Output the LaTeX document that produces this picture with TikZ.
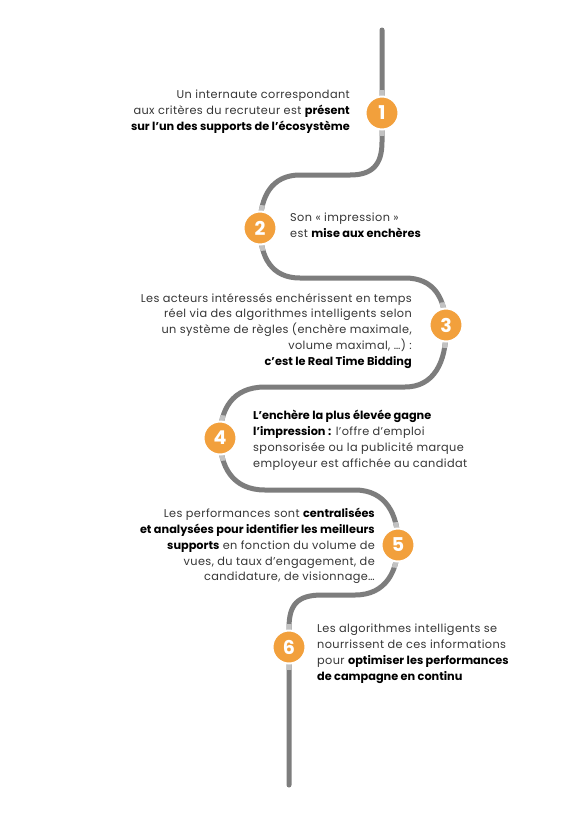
\documentclass[tikz,border=0pt]{standalone}
\usepackage{fontspec}
\setmainfont{Poppins}[LetterSpace=3.5, BoldFeatures={LetterSpace=0}]
\definecolor{trail}{HTML}{7D7D7D}
\definecolor{traillight}{HTML}{C2C2C2}
\definecolor{stepor}{HTML}{F2A03C}
\definecolor{txt}{HTML}{363636}
\newcommand{\trailpath}{(382,30) -- (382,142)
  .. controls (382,165) and (372,175) .. (350,175) -- (300,175)
  .. controls (272,175) and (260,196) .. (260,227)
  .. controls (260,258) and (272,278) .. (300,278) -- (405,278)
  .. controls (434,278) and (446,298) .. (446,330)
  .. controls (446,362) and (434,387) .. (405,387) -- (265,387)
  .. controls (232,387) and (220,410) .. (220,438)
  .. controls (220,466) and (232,490) .. (265,490) -- (355,490)
  .. controls (386,490) and (398,515) .. (398,543)
  .. controls (398,571) and (386,595) .. (355,595) -- (322,595)
  .. controls (297,595) and (289,605) .. (289,628) -- (289,785)}
\newcommand{\lightseg}[1]{\begin{scope}\clip #1 circle (23); \draw[lighttrail] \trailpath; \end{scope}}
\begin{document}
\begin{tikzpicture}[x=1pt,y=-1pt,
  trailline/.style={draw=trail, line width=5pt, line cap=round},
  lighttrail/.style={draw=traillight, line width=5pt},
  stepcirc/.style={circle, fill=stepor, draw=white, line width=2pt, minimum size=33pt, inner sep=0pt, text=white, font=\bfseries\fontsize{19}{19}\selectfont},
  desc/.style={inner sep=0pt, text=txt, font=\fontsize{11.3}{15.9}\selectfont},
  descr/.style={desc, anchor=east, align=right},
  descl/.style={desc, anchor=west, align=left}]
\useasboundingbox (0,0) rectangle (583,815);
\fill[white] (0,0) rectangle (583,815);
\draw[trailline] \trailpath;
\lightseg{(382,113)}
\lightseg{(260,228)}
\lightseg{(446,325)}
\lightseg{(220,438)}
\lightseg{(398,545)}
\lightseg{(289,647)}
\node[stepcirc] (c1) at (382,113) {1};
\node[stepcirc] (c2) at (260,228) {2};
\node[stepcirc] (c3) at (446,325) {3};
\node[stepcirc] (c4) at (220,438) {4};
\node[stepcirc] (c5) at (398,545) {5};
\node[stepcirc] (c6) at (289,647) {6};
\node[descr] (t1) at (350,112) {Un internaute correspondant\\aux critères du recruteur est \textcolor{black}{\textbf{présent}}\\\textcolor{black}{\textbf{sur l’un des supports de l’écosystème}}};
\node[descl] (t2) at (290,225) {Son « impression »\\est \textcolor{black}{\textbf{mise aux enchères}}};
\node[descr] (t3) at (412,331) {Les acteurs intéressés enchérissent en temps\\réel via des algorithmes intelligents selon\\un système de règles (enchère maximale,\\volume maximal, …) :\\\textcolor{black}{\textbf{c’est le Real Time Bidding}}};
\node[descl] (t4) at (253,440) {\textcolor{black}{\textbf{L’enchère la plus élevée gagne}}\\\textcolor{black}{\textbf{l’impression :}} l’offre d’emploi\\sponsorisée ou la publicité marque\\employeur est affichée au candidat};
\node[descr] (t5) at (375,546) {Les performances sont \textcolor{black}{\textbf{centralisées}}\\\textcolor{black}{\textbf{et analysées pour identifier les meilleurs}}\\\textcolor{black}{\textbf{supports}} en fonction du volume de\\vues, du taux d’engagement, de\\candidature, de visionnage…};
\node[descl] (t6) at (317,654) {Les algorithmes intelligents se\\nourrissent de ces informations\\pour \textcolor{black}{\textbf{optimiser les performances}}\\\textcolor{black}{\textbf{de campagne en continu}}};
\end{tikzpicture}
\end{document}
